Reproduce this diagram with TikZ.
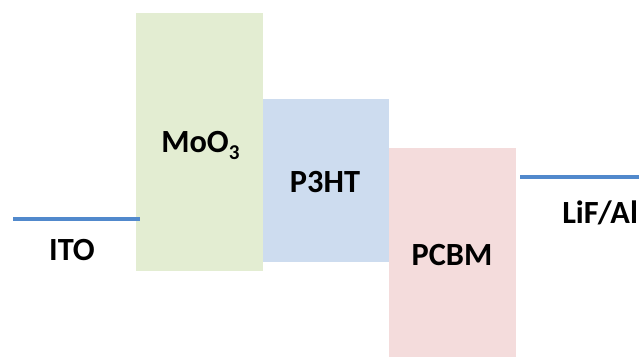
\documentclass[tikz,border=0pt]{standalone}
\usepackage{fontspec}
\setmainfont{Carlito}
\usepackage{xcolor}
\usepackage{tikz}
\usetikzlibrary{positioning}

\definecolor{mooGreen}{HTML}{E3EDD2}
\definecolor{phtBlue}{HTML}{CDDCEF}
\definecolor{pcbmPink}{HTML}{F4DCDC}
\definecolor{elecBlue}{HTML}{5189CC}

\begin{document}
\begin{tikzpicture}[
  x=0.025cm, y=-0.025cm,
  layer/.style={draw=none},
  electrode/.style={line width=2.2pt,elecBlue},
  lbl/.style={font=\fontsize{23}{27}\selectfont\bfseries,inner sep=0pt,anchor=base}
]
\useasboundingbox (0,0) rectangle (639,357);
\clip (0,0) rectangle (639,357);

% Layers
\fill[layer,mooGreen] (136,13) rectangle (263,271);
\fill[layer,phtBlue]  (263,99) rectangle (389,262);
\fill[layer,pcbmPink] (389,148) rectangle (516,357);

% Electrodes
\coordinate (itoL) at (13,219);
\coordinate (itoR) at (140,219);
\coordinate (lifL) at (520,177);
\coordinate (lifR) at (639,177);
\draw[electrode] (itoL) -- (itoR);
\draw[electrode] (lifL) -- (lifR);

% Labels
\node[lbl] (ito) at (72,260) {ITO};
\node[lbl,anchor=base west] (moo) at (161,152)
  {MoO\raisebox{-0.22em}{\fontsize{15}{18}\selectfont 3}};
\node[lbl] (pht) at (325,192) {P3HT};
\node[lbl] (pcbm) at (452,265) {PCBM};
\node[lbl,anchor=base west] (lif) at (562,223) {LiF/Al};
\end{tikzpicture}
\end{document}
